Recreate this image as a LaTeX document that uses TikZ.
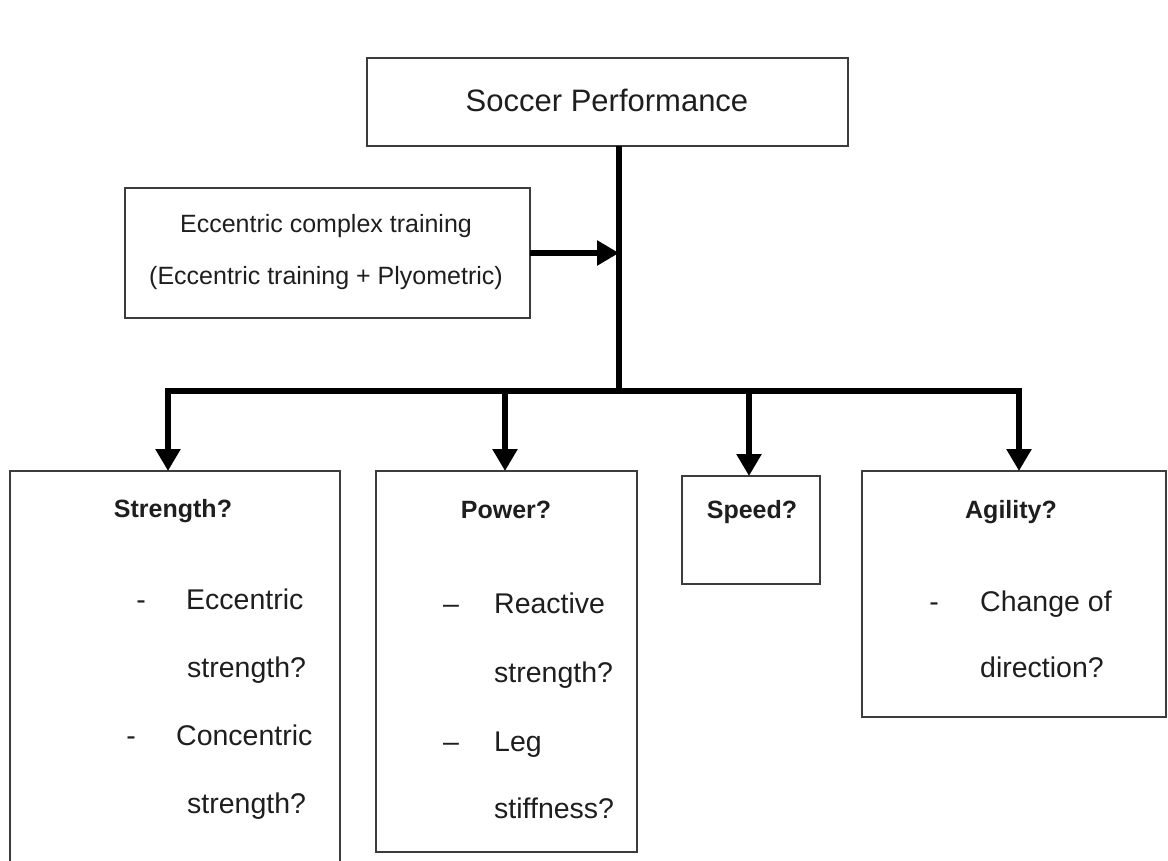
\documentclass[tikz,border=0pt]{standalone}
\usepackage{fontspec}
\setmainfont{Liberation Sans}
\usetikzlibrary{arrows.meta}
\definecolor{boxgray}{HTML}{3C3C3C}
\definecolor{txt}{HTML}{1E1E1E}
\tikzset{
  box/.style={draw=boxgray, line width=2pt, inner sep=0pt, outer sep=0pt, anchor=north west},
  conn/.style={line width=6.5pt, black},
  arr/.style={conn, -{Triangle[width=24pt,length=22pt]}},
  body/.style={font=\fontsize{28.5}{34}\selectfont, text=txt, anchor=base west, inner sep=0pt},
  dashtxt/.style={font=\fontsize{28.5}{34}\selectfont, text=txt, anchor=base, inner sep=0pt},
  head/.style={font=\fontsize{25}{30}\selectfont\bfseries, text=txt, anchor=base, inner sep=0pt},
  small/.style={font=\fontsize{25}{30}\selectfont, text=txt, anchor=base, inner sep=0pt},
  title/.style={font=\fontsize{31}{36}\selectfont, text=txt, anchor=base, inner sep=0pt},
}
\begin{document}
\begin{tikzpicture}[x=1pt,y=-1pt]
\useasboundingbox (0,0) rectangle (1168,861);
% boxes
\node[box, minimum width=481pt, minimum height=88pt] (top) at (367,58) {};
\node[box, minimum width=405pt, minimum height=130pt] (ecc) at (125,188) {};
\node[box, minimum width=330pt, minimum height=410pt] (str) at (10,471) {};
\node[box, minimum width=261pt, minimum height=381pt] (pow) at (376,471) {};
\node[box, minimum width=138pt, minimum height=108pt] (spd) at (682,476) {};
\node[box, minimum width=304pt, minimum height=246pt] (agi) at (862,471) {};
% texts
\node[title] (ttop) at (607,112) {Soccer Performance};
\node[small] (te1) at (326,233) {Eccentric complex training};
\node[small] (te2) at (326,285) {(Eccentric training + Plyometric)};
\node[head] (ts) at (173,517) {Strength?};
\node[dashtxt] (ts1d) at (141,609) {-};
\node[body] (ts1) at (186,609) {Eccentric};
\node[body] (ts2) at (187,677) {strength?};
\node[dashtxt] (ts3d) at (131,745) {-};
\node[body] (ts3) at (176,745) {Concentric};
\node[body] (ts4) at (187,813) {strength?};
\node[head] (tp) at (506,518) {Power?};
\node[dashtxt] (tp1d) at (451,613) {--};
\node[body] (tp1) at (494,613) {Reactive};
\node[body] (tp2) at (494,682) {strength?};
\node[dashtxt] (tp3d) at (451,751) {--};
\node[body] (tp3) at (494,751) {Leg};
\node[body] (tp4) at (494,818) {stiffness?};
\node[head] (tsp) at (752,518) {Speed?};
\node[head] (ta) at (1011,518) {Agility?};
\node[dashtxt] (ta1d) at (934,611) {-};
\node[body] (ta1) at (980,611) {Change of};
\node[body] (ta2) at (980,677) {direction?};
% connectors
\coordinate (tb) at (619,391);
\coordinate (j1) at (168,391);
\coordinate (j2) at (505,391);
\coordinate (j3) at (749,391);
\coordinate (j4) at (1019,391);
\draw[conn] (top.south -| tb) -- (tb);
\draw[conn, line cap=rect] (j1) -- (j4);
\draw[arr] (j1) -- (j1 |- str.north);
\draw[arr] (j2) -- (j2 |- pow.north);
\draw[arr] (j3) -- (j3 |- spd.north);
\draw[arr] (j4) -- (j4 |- agi.north);
\draw[arr] (ecc.east) -- (ecc.east -| tb);
\end{tikzpicture}
\end{document}
